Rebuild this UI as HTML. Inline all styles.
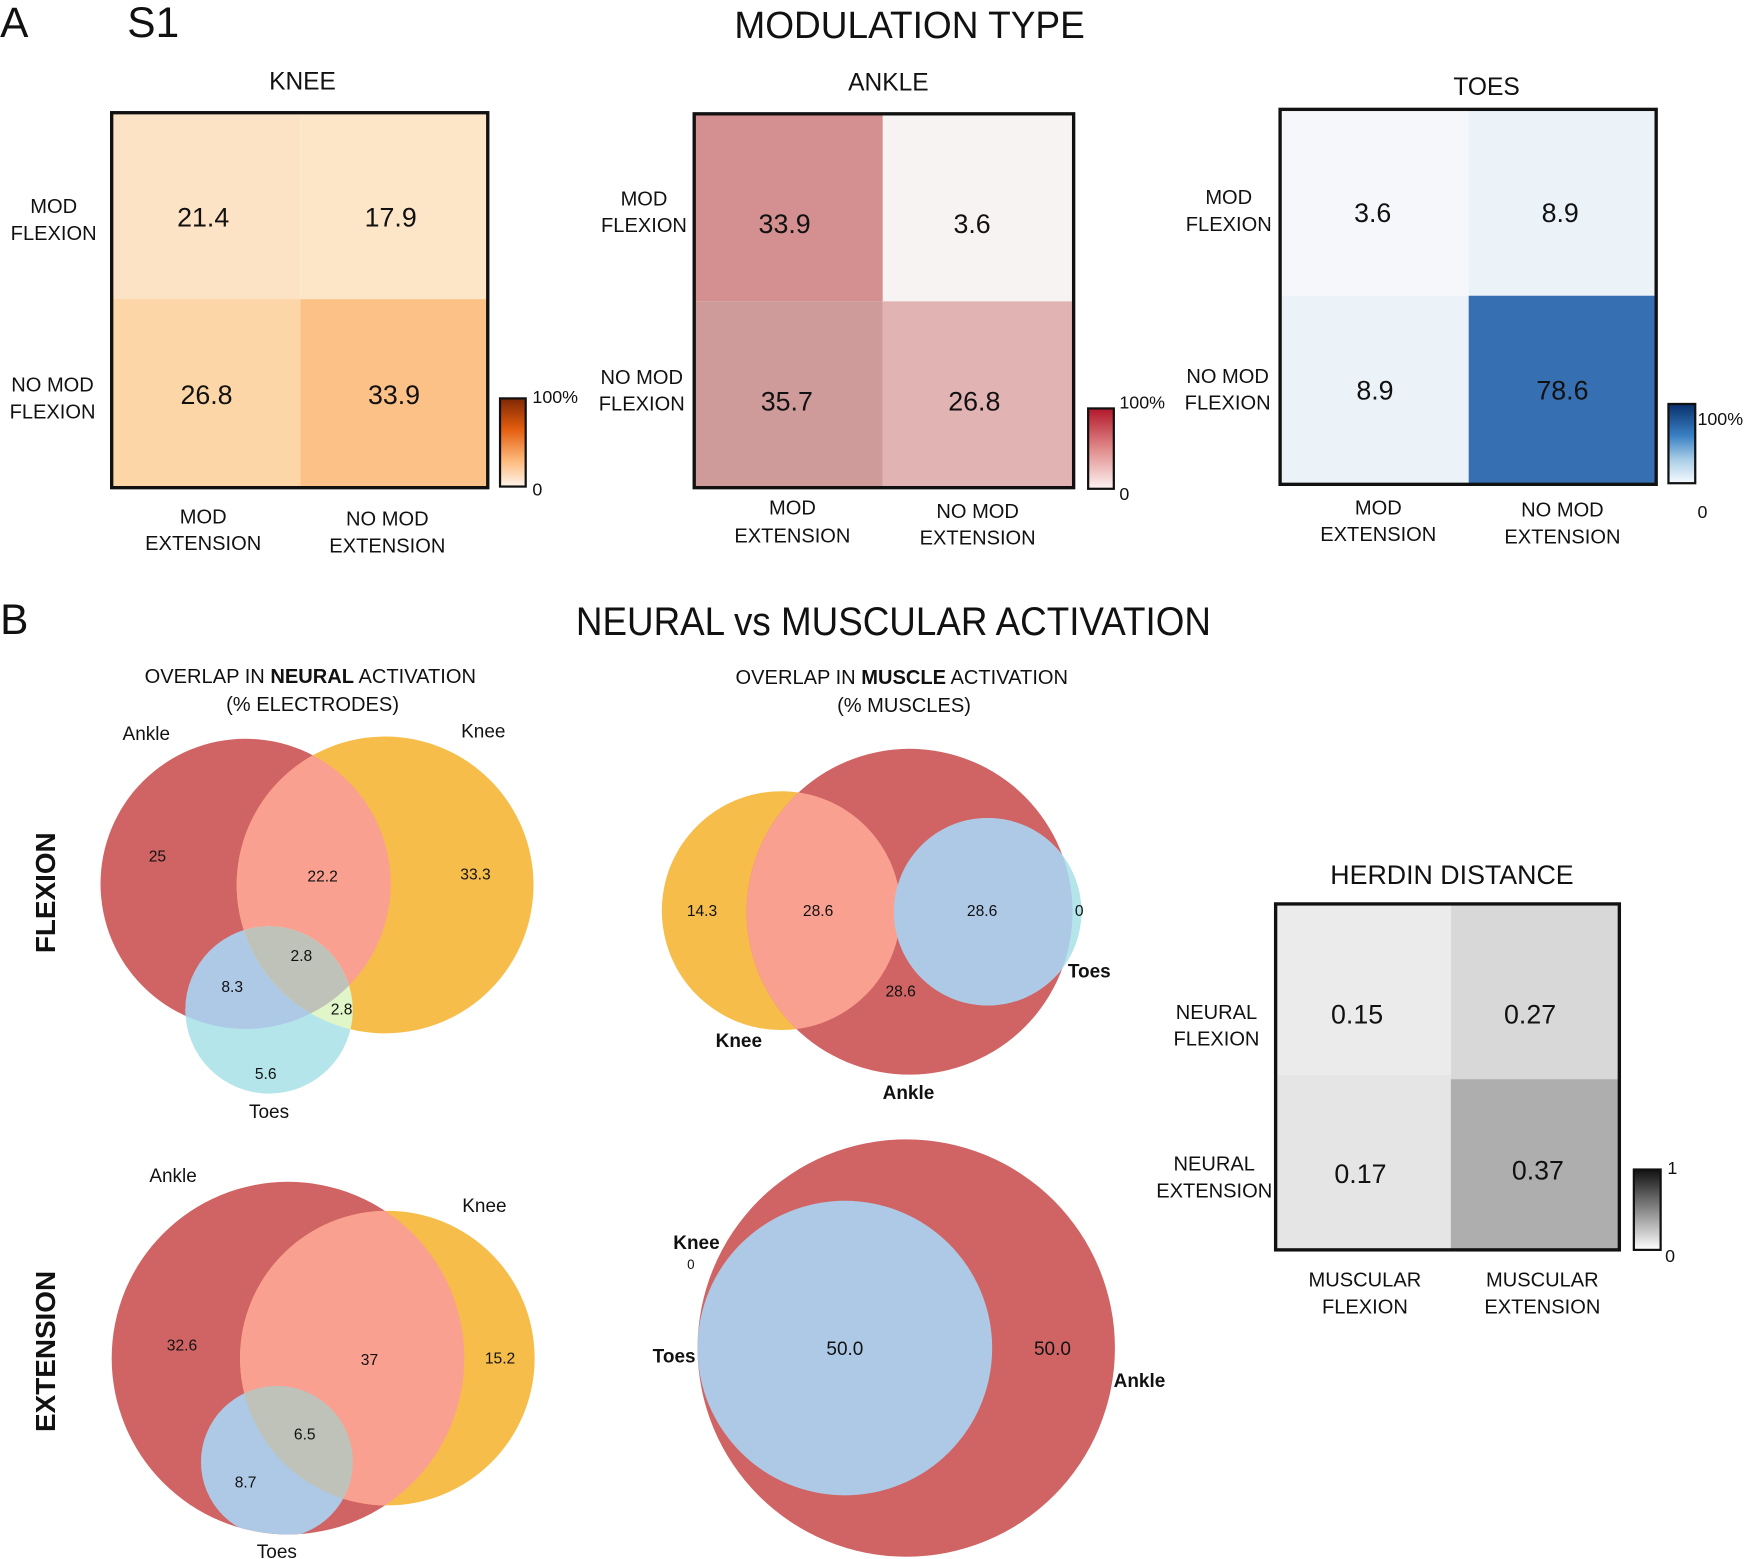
<!DOCTYPE html>
<html><head><meta charset="utf-8"><style>
html,body{margin:0;padding:0;background:#fff}
svg{display:block}
text{font-family:"Liberation Sans",sans-serif;fill:#111}
</style></head><body>
<svg width="1750" height="1559" viewBox="0 0 1568 1397" xmlns="http://www.w3.org/2000/svg">
<defs>
<linearGradient id="gO" x1="0" y1="0" x2="0" y2="1"><stop offset="0" stop-color="#7f2704"/><stop offset="0.35" stop-color="#e35d0e"/><stop offset="0.7" stop-color="#fdb87a"/><stop offset="1" stop-color="#fff5eb"/></linearGradient>
<linearGradient id="gR" x1="0" y1="0" x2="0" y2="1"><stop offset="0" stop-color="#b2182b"/><stop offset="0.5" stop-color="#e08a8a"/><stop offset="1" stop-color="#fdf3f3"/></linearGradient>
<linearGradient id="gB" x1="0" y1="0" x2="0" y2="1"><stop offset="0" stop-color="#08306b"/><stop offset="0.4" stop-color="#3a80c4"/><stop offset="0.7" stop-color="#a8cde6"/><stop offset="1" stop-color="#f7fbff"/></linearGradient>
<linearGradient id="gK" x1="0" y1="0" x2="0" y2="1"><stop offset="0" stop-color="#111"/><stop offset="1" stop-color="#fff"/></linearGradient>
<clipPath id="nfA"><circle cx="220" cy="792" r="130"/></clipPath>
<clipPath id="nfK"><circle cx="345" cy="793" r="133"/></clipPath>
<clipPath id="mfA"><circle cx="815" cy="817" r="146"/></clipPath>
<clipPath id="neA"><circle cx="258" cy="1217" r="158"/></clipPath>
<clipPath id="neK"><circle cx="347" cy="1217" r="132"/></clipPath>
</defs>

<text x="0" y="33" font-size="38">A</text>
<text x="114" y="33" font-size="38">S1</text>
<text x="658" y="34" font-size="34" textLength="314" lengthAdjust="spacingAndGlyphs">MODULATION TYPE</text>

<!-- KNEE -->
<text x="271" y="80" font-size="22" text-anchor="middle">KNEE</text>
<rect x="100" y="101" width="169" height="167" fill="#fde3c5"/>
<rect x="269" y="101" width="168" height="167" fill="#fde6c8"/>
<rect x="100" y="268" width="169" height="169" fill="#fcd6a6"/>
<rect x="269" y="268" width="168" height="169" fill="#fbc187"/>
<rect x="100" y="101" width="337" height="336" fill="none" stroke="#111" stroke-width="3"/>
<g font-size="24" text-anchor="middle"><text x="182" y="203">21.4</text><text x="350" y="203">17.9</text><text x="185" y="362">26.8</text><text x="353" y="362">33.9</text></g>
<g font-size="18" text-anchor="middle">
<text x="48" y="191">MOD</text><text x="48" y="215">FLEXION</text>
<text x="47" y="351">NO MOD</text><text x="47" y="375">FLEXION</text>
<text x="182" y="469">MOD</text><text x="182" y="493">EXTENSION</text>
<text x="347" y="471">NO MOD</text><text x="347" y="495">EXTENSION</text></g>
<rect x="448" y="357" width="23" height="79" fill="url(#gO)" stroke="#111" stroke-width="2"/>
<text x="477" y="361" font-size="16">100%</text><text x="477" y="444" font-size="16">0</text>

<!-- ANKLE -->
<text x="796" y="81" font-size="22" text-anchor="middle">ANKLE</text>
<rect x="622" y="102" width="169" height="168" fill="#d49090"/>
<rect x="791" y="102" width="171" height="168" fill="#f8f3f3"/>
<rect x="622" y="270" width="169" height="167" fill="#cf9a9a"/>
<rect x="791" y="270" width="171" height="167" fill="#e1b3b3"/>
<rect x="622" y="102" width="340" height="335" fill="none" stroke="#111" stroke-width="3"/>
<g font-size="24" text-anchor="middle"><text x="703" y="209">33.9</text><text x="871" y="209">3.6</text><text x="705" y="368">35.7</text><text x="873" y="368">26.8</text></g>
<g font-size="18" text-anchor="middle">
<text x="577" y="184">MOD</text><text x="577" y="208">FLEXION</text>
<text x="575" y="344">NO MOD</text><text x="575" y="368">FLEXION</text>
<text x="710" y="461">MOD</text><text x="710" y="486">EXTENSION</text>
<text x="876" y="464">NO MOD</text><text x="876" y="488">EXTENSION</text></g>
<rect x="975" y="366" width="23" height="72" fill="url(#gR)" stroke="#111" stroke-width="2"/>
<text x="1003" y="366" font-size="16">100%</text><text x="1003" y="448" font-size="16">0</text>

<!-- TOES -->
<text x="1332" y="85" font-size="22" text-anchor="middle">TOES</text>
<rect x="1147" y="98" width="169" height="167" fill="#f6f7fa"/>
<rect x="1316" y="98" width="168" height="167" fill="#ebf2f8"/>
<rect x="1147" y="265" width="169" height="169" fill="#ebf2f8"/>
<rect x="1316" y="265" width="168" height="169" fill="#3670b2"/>
<rect x="1147" y="98" width="337" height="336" fill="none" stroke="#111" stroke-width="3"/>
<g font-size="24" text-anchor="middle"><text x="1230" y="199">3.6</text><text x="1398" y="199">8.9</text><text x="1232" y="358">8.9</text><text x="1400" y="358">78.6</text></g>
<g font-size="18" text-anchor="middle">
<text x="1101" y="183">MOD</text><text x="1101" y="207">FLEXION</text>
<text x="1100" y="343">NO MOD</text><text x="1100" y="367">FLEXION</text>
<text x="1235" y="461">MOD</text><text x="1235" y="485">EXTENSION</text>
<text x="1400" y="463">NO MOD</text><text x="1400" y="487">EXTENSION</text></g>
<rect x="1495" y="362" width="24" height="71" fill="url(#gB)" stroke="#111" stroke-width="2"/>
<text x="1521" y="381" font-size="16">100%</text><text x="1521" y="464" font-size="16">0</text>

<!-- B -->
<text x="0" y="568" font-size="38">B</text>
<text x="516" y="569" font-size="36" textLength="569" lengthAdjust="spacingAndGlyphs">NEURAL vs MUSCULAR ACTIVATION</text>
<g font-size="18" text-anchor="middle">
<text x="278" y="612">OVERLAP IN <tspan font-weight="bold">NEURAL</tspan> ACTIVATION</text>
<text x="280" y="637">(% ELECTRODES)</text>
<text x="808" y="613">OVERLAP IN <tspan font-weight="bold">MUSCLE</tspan> ACTIVATION</text>
<text x="810" y="638">(% MUSCLES)</text></g>
<text transform="translate(49,800) rotate(-90)" font-size="25" font-weight="bold" text-anchor="middle">FLEXION</text>
<text transform="translate(49,1211) rotate(-90)" font-size="25" font-weight="bold" text-anchor="middle">EXTENSION</text>

<!-- neural flexion -->
<circle cx="220" cy="792" r="130" fill="#d06464"/>
<circle cx="345" cy="793" r="133" fill="#f6bd4b"/>
<circle cx="241" cy="905" r="75" fill="#b3e5ea"/>
<circle cx="345" cy="793" r="133" fill="#f9a090" clip-path="url(#nfA)"/>
<circle cx="241" cy="905" r="75" fill="#adc9e6" clip-path="url(#nfA)"/>
<circle cx="241" cy="905" r="75" fill="#e0f5c8" clip-path="url(#nfK)"/>
<g clip-path="url(#nfA)"><circle cx="241" cy="905" r="75" fill="#bfc2b9" clip-path="url(#nfK)"/></g>
<g font-size="14" text-anchor="middle">
<text x="141" y="772">25</text><text x="289" y="790">22.2</text><text x="426" y="788">33.3</text>
<text x="270" y="861">2.8</text><text x="208" y="889">8.3</text><text x="306" y="909">2.8</text><text x="238" y="967">5.6</text></g>
<g font-size="17" text-anchor="middle"><text x="131" y="663">Ankle</text><text x="433" y="661">Knee</text><text x="241" y="1002">Toes</text></g>

<!-- muscle flexion -->
<circle cx="700" cy="816" r="107" fill="#f6bd4b"/>
<circle cx="815" cy="817" r="146" fill="#d06464"/>
<circle cx="700" cy="816" r="107" fill="#f9a090" clip-path="url(#mfA)"/>
<circle cx="885" cy="817" r="84" fill="#b3e5ea"/>
<circle cx="885" cy="817" r="84" fill="#adc9e6" clip-path="url(#mfA)"/>
<g font-size="14" text-anchor="middle">
<text x="629" y="821">14.3</text><text x="733" y="821">28.6</text><text x="880" y="821">28.6</text><text x="967" y="821">0</text><text x="807" y="893">28.6</text></g>
<g font-size="17" font-weight="bold" text-anchor="middle"><text x="662" y="938">Knee</text><text x="814" y="985">Ankle</text><text x="976" y="876">Toes</text></g>

<!-- neural extension -->
<circle cx="258" cy="1217" r="158" fill="#d06464"/>
<circle cx="347" cy="1217" r="132" fill="#f6bd4b"/>
<circle cx="347" cy="1217" r="132" fill="#f9a090" clip-path="url(#neA)"/>
<circle cx="248" cy="1310" r="68" fill="#adc9e6" clip-path="url(#neA)"/>
<g clip-path="url(#neA)"><circle cx="248" cy="1310" r="68" fill="#bfc2b9" clip-path="url(#neK)"/></g>
<g font-size="14" text-anchor="middle">
<text x="163" y="1210">32.6</text><text x="331" y="1223">37</text><text x="448" y="1222">15.2</text><text x="273" y="1290">6.5</text><text x="220" y="1333">8.7</text></g>
<g font-size="17" text-anchor="middle"><text x="155" y="1059">Ankle</text><text x="434" y="1086">Knee</text><text x="248" y="1396">Toes</text></g>

<!-- muscle extension -->
<circle cx="812" cy="1208" r="187" fill="#d06464"/>
<circle cx="757" cy="1208" r="132" fill="#adc9e6"/>
<g font-size="17" text-anchor="middle"><text x="757" y="1214">50.0</text><text x="943" y="1214">50.0</text></g>
<g font-size="17" font-weight="bold" text-anchor="middle"><text x="624" y="1119">Knee</text><text x="604" y="1221">Toes</text><text x="1021" y="1243">Ankle</text></g>
<text x="619" y="1137" font-size="12" text-anchor="middle">0</text>

<!-- Herdin -->
<text x="1301" y="792" font-size="24" text-anchor="middle">HERDIN DISTANCE</text>
<rect x="1143" y="810" width="157" height="153" fill="#eaebea"/>
<rect x="1300" y="810" width="151" height="157" fill="#d8d8d8"/>
<rect x="1143" y="963" width="157" height="157" fill="#e5e5e6"/>
<rect x="1300" y="967" width="151" height="153" fill="#aeaeae"/>
<rect x="1143" y="810" width="308" height="310" fill="none" stroke="#111" stroke-width="3"/>
<g font-size="24" text-anchor="middle"><text x="1216" y="917">0.15</text><text x="1371" y="917">0.27</text><text x="1219" y="1060">0.17</text><text x="1378" y="1057">0.37</text></g>
<g font-size="18" text-anchor="middle">
<text x="1090" y="913">NEURAL</text><text x="1090" y="937">FLEXION</text>
<text x="1088" y="1049">NEURAL</text><text x="1088" y="1073">EXTENSION</text>
<text x="1223" y="1153">MUSCULAR</text><text x="1223" y="1177">FLEXION</text>
<text x="1382" y="1153">MUSCULAR</text><text x="1382" y="1177">EXTENSION</text></g>
<rect x="1464" y="1048" width="24" height="72" fill="url(#gK)" stroke="#111" stroke-width="2"/>
<text x="1494" y="1052" font-size="16">1</text><text x="1492" y="1131" font-size="16">0</text>
</svg>
</body></html>
